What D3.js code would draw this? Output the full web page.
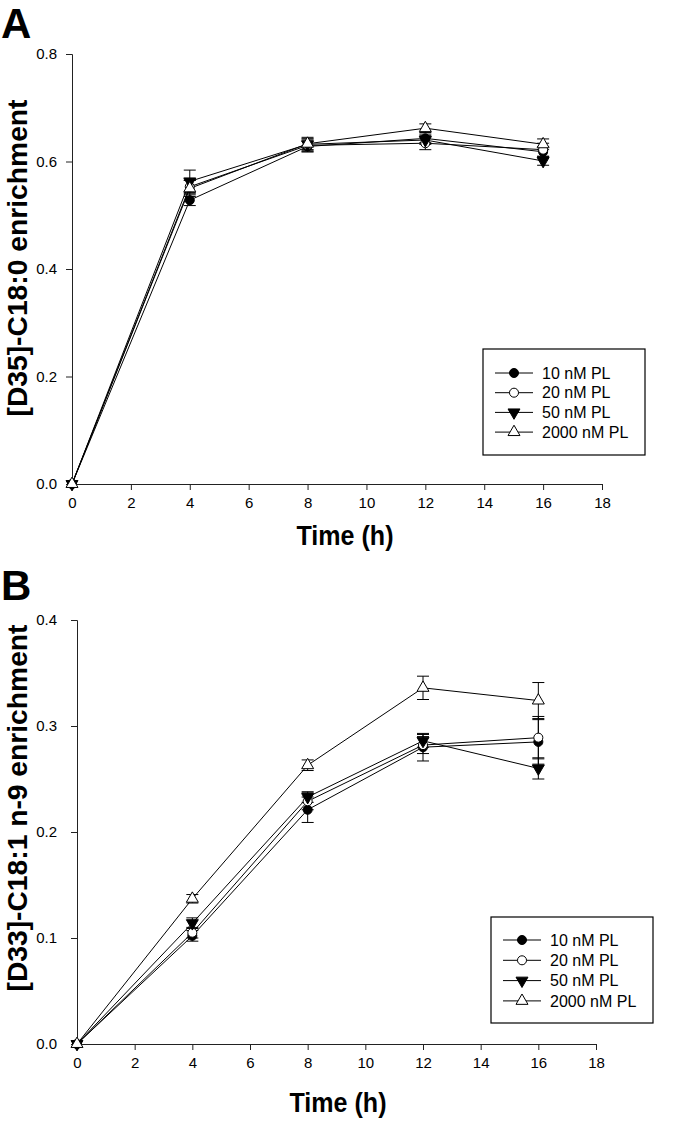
<!DOCTYPE html>
<html><head><meta charset="utf-8">
<script src="https://cdn.jsdelivr.net/npm/d3@7"></script>
<style>
html,body{margin:0;padding:0;background:#fff;}
svg{display:block;font-family:"Liberation Sans",Arial,sans-serif;}
</style></head>
<body>
<svg id="chart" width="682" height="1121"></svg>
<script>
// ---- data ----
const timeH = [0, 4, 8, 12, 16];
const xTicks = [0, 2, 4, 6, 8, 10, 12, 14, 16, 18];
const seriesNames = ["10 nM PL", "20 nM PL", "50 nM PL", "2000 nM PL"];

// Panel A: [D35]-C18:0 enrichment
const yTicksA = [0.0, 0.2, 0.4, 0.6, 0.8];
const a10   = [0, 0.528, 0.628, 0.643, 0.618];
const a20   = [0, 0.553, 0.630, 0.634, 0.622];
const a50   = [0, 0.563, 0.632, 0.640, 0.601];
const a2000 = [0, 0.550, 0.633, 0.662, 0.632];
const a10Err   = [0, 0.010, 0.010, 0.008, 0.010];
const a20Err   = [0, 0.012, 0.012, 0.012, 0.012];
const a50Err   = [0, 0.021, 0.010, 0.008, 0.008];
const a2000Err = [0, 0.015, 0.012, 0.008, 0.010];

// Panel B: [D33]-C18:1 n-9 enrichment
const yTicksB = [0.0, 0.1, 0.2, 0.3, 0.4];
const b10   = [0, 0.102, 0.221, 0.280, 0.285];
const b20   = [0, 0.105, 0.229, 0.282, 0.289];
const b50   = [0, 0.114, 0.233, 0.286, 0.260];
const b2000 = [0, 0.137, 0.263, 0.336, 0.324];
const b10Err   = [0, 0.005, 0.012, 0.013, 0.021];
const b20Err   = [0, 0.005, 0.008, 0.008, 0.020];
const b50Err   = [0, 0.005, 0.005, 0.006, 0.010];
const b2000Err = [0, 0.004, 0.005, 0.011, 0.017];

// ---- drawing ----
const svg = d3.select("#chart");
const markerStyles = [
  {type: d3.symbolCircle, fill: "#000", rot: 0, size: 64},
  {type: d3.symbolCircle, fill: "#fff", rot: 0, size: 64},
  {type: d3.symbolTriangle, fill: "#000", rot: 180, size: 62},
  {type: d3.symbolTriangle, fill: "#fff", rot: 0, size: 62}
];

function drawPanel(cfg) {
  const g = svg.append("g");
  const x = d3.scaleLinear().domain([0, 18]).range(cfg.xRange);
  const y = d3.scaleLinear().domain([0, cfg.yMax]).range(cfg.yRange);

  // axes
  const yAxis = d3.axisLeft(y).tickValues(cfg.yTicks).tickFormat(d3.format(".1f"))
    .tickSizeOuter(0).tickSize(6).tickPadding(cfg.yPad);
  const xAxis = d3.axisBottom(x).tickValues(xTicks).tickFormat(d3.format("d"))
    .tickSizeOuter(0).tickSize(6).tickPadding(7);
  const ya = g.append("g").attr("transform", `translate(${cfg.xRange[0]},0)`).call(yAxis);
  const xa = g.append("g").attr("transform", `translate(0,${cfg.yRange[0]})`).call(xAxis);
  [ya, xa].forEach(a => {
    a.selectAll("text").attr("font-size", 15).attr("fill", "#000")
      .attr("font-family", "Liberation Sans, Arial, sans-serif");
    a.selectAll("line").attr("stroke", "#222");
    a.select(".domain").attr("stroke", "#222");
  });

  const series = cfg.values.map((v, i) => ({
    name: seriesNames[i], style: markerStyles[i],
    pts: timeH.map((t, j) => ({t, v: v[j], e: cfg.errs[i][j]}))
  }));

  const line = d3.line().x(d => x(d.t)).y(d => y(d.v));
  g.selectAll("path.series").data(series).enter().append("path")
    .attr("class", "series").attr("d", d => line(d.pts))
    .attr("fill", "none").attr("stroke", "#000").attr("stroke-width", 1);

  // error bars
  series.forEach(s => {
    const eb = g.append("g");
    s.pts.filter(p => p.e > 0).forEach(p => {
      const cx = x(p.t);
      eb.append("line").attr("x1", cx).attr("x2", cx)
        .attr("y1", y(p.v - p.e)).attr("y2", y(p.v + p.e)).attr("stroke", "#000");
      [p.v - p.e, p.v + p.e].forEach(val => {
        eb.append("line").attr("x1", cx - 6).attr("x2", cx + 6)
          .attr("y1", y(val)).attr("y2", y(val)).attr("stroke", "#000");
      });
    });
  });

  // markers
  series.forEach(s => {
    const sym = d3.symbol().type(s.style.type).size(s.style.size);
    g.append("g").selectAll("path").data(s.pts).enter().append("path")
      .attr("d", sym)
      .attr("transform", d => `translate(${x(d.t)},${y(d.v)}) rotate(${s.style.rot})`)
      .attr("fill", s.style.fill).attr("stroke", "#000").attr("stroke-width", 1);
  });

  // axis titles
  g.append("text").attr("x", cfg.xTitleX).attr("y", cfg.xTitleY)
    .attr("text-anchor", "middle").attr("font-weight", "bold").attr("font-size", 27)
    .attr("textLength", 97).attr("lengthAdjust", "spacingAndGlyphs")
    .text("Time (h)");
  g.append("text")
    .attr("transform", `translate(${cfg.yTitleX},${cfg.yTitleY}) rotate(-90)`)
    .attr("text-anchor", "middle").attr("font-weight", "bold").attr("font-size", 28)
    .attr("textLength", cfg.yTitleLen).attr("lengthAdjust", "spacingAndGlyphs")
    .text(cfg.yTitle);

  // panel letter
  g.append("text").attr("x", 1).attr("y", cfg.letterY)
    .attr("font-weight", "bold").attr("font-size", 42).text(cfg.letter);

  // legend
  const L = cfg.legend;
  const lg = g.append("g");
  lg.append("rect").attr("x", L.x).attr("y", L.y).attr("width", L.w).attr("height", L.h)
    .attr("fill", "#fff").attr("stroke", "#000").attr("stroke-width", 1.2);
  series.forEach((s, i) => {
    const ry = L.y + L.first + i * L.step;
    lg.append("line").attr("x1", L.x + 12).attr("x2", L.x + 50)
      .attr("y1", ry).attr("y2", ry).attr("stroke", "#000");
    const sym = d3.symbol().type(s.style.type).size(s.style.size);
    lg.append("path").attr("d", sym)
      .attr("transform", `translate(${L.x + 31},${ry}) rotate(${s.style.rot})`)
      .attr("fill", s.style.fill).attr("stroke", "#000");
    lg.append("text").attr("x", L.x + 59).attr("y", ry).attr("dy", "0.35em")
      .attr("font-size", 16).text(s.name);
  });
}

drawPanel({
  letter: "A", letterY: 38,
  xRange: [72, 602], yRange: [484, 54], yMax: 0.8, yTicks: yTicksA, yPad: 9,
  values: [a10, a20, a50, a2000], errs: [a10Err, a20Err, a50Err, a2000Err],
  xTitleX: 345, xTitleY: 545,
  yTitle: "[D35]-C18:0 enrichment", yTitleX: 27, yTitleY: 258, yTitleLen: 317,
  legend: {x: 483, y: 349, w: 162, h: 106, first: 24, step: 19.7}
});

drawPanel({
  letter: "B", letterY: 600,
  xRange: [77, 596], yRange: [1044, 620], yMax: 0.4, yTicks: yTicksB, yPad: 14,
  values: [b10, b20, b50, b2000], errs: [b10Err, b20Err, b50Err, b2000Err],
  xTitleX: 338, xTitleY: 1112,
  yTitle: "[D33]-C18:1 n-9 enrichment", yTitleX: 27, yTitleY: 808, yTitleLen: 367,
  legend: {x: 491, y: 917, w: 162, h: 106, first: 23, step: 20.3}
});
</script>
</body></html>
